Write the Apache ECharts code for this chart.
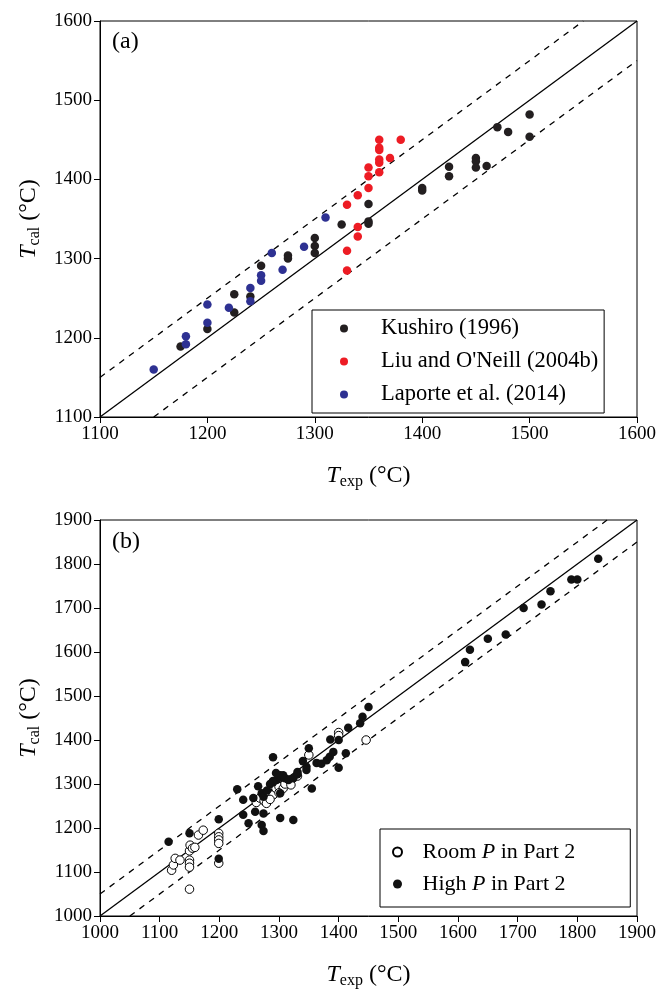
<!DOCTYPE html>
<html>
<head>
<meta charset="utf-8">
<script src="https://cdn.jsdelivr.net/npm/echarts@6/dist/echarts.min.js"></script>
<style>html,body{margin:0;padding:0;background:#fff}#c{width:659px;height:996px}</style>
</head>
<body>
<div id="c"></div>
<script>
// Panel (a)
const kushiroTexp = [1175,1200,1225,1225,1240,1250,1275,1275,1300,1300,1300,1325,1350,1350,1350,1400,1400,1425,1425,1450,1450,1450,1460,1470,1480,1500,1500];
const kushiroTcal = [1189,1211,1232,1255,1252,1291,1304,1300,1326,1316,1307,1343,1369,1347,1344,1389,1386,1416,1404,1427,1423,1415,1417,1466,1460,1482,1454];
const liuTexp = [1330,1330,1330,1340,1340,1340,1350,1350,1350,1360,1360,1360,1360,1360,1360,1370,1380];
const liuTcal = [1285,1310,1368,1328,1340,1380,1389,1404,1415,1409,1421,1425,1437,1440,1450,1427,1450];
const laporteTexp = [1150,1180,1180,1200,1200,1220,1240,1240,1250,1250,1260,1270,1290,1310];
const laporteTcal = [1160,1192,1202,1219,1242,1238,1263,1246,1279,1272,1307,1286,1315,1352];
const oneToOneA = [[1100,1100],[1600,1600]];
const upperA = [[1100,1150],[1550,1600]];
const lowerA = [[1150,1100],[1600,1550]];

// Panel (b)
const roomTexp = [1120,1123,1126,1134,1150,1150,1150,1150,1151,1155,1159,1150,1165,1173,1199,1199,1199,1199,1199,1262,1268,1275,1279,1285,1280,1290,1295,1300,1307,1310,1317,1320,1285,1300,1331,1350,1400,1400,1446];
const roomTcal = [1104,1116,1131,1127,1148,1127,1120,1111,1161,1154,1156,1061,1184,1195,1188,1180,1173,1165,1120,1258,1268,1262,1256,1275,1283,1275,1290,1294,1290,1300,1309,1298,1265,1280,1318,1366,1417,1410,1400];
const highTexp = [1115,1150,1199,1199,1230,1240,1240,1249,1257,1260,1265,1271,1274,1274,1271,1274,1290,1290,1296,1290,1302,1302,1307,1310,1316,1302,1302,1324,1324,1331,1331,1340,1346,1346,1350,1355,1363,1371,1380,1385,1386,1391,1400,1400,1412,1416,1436,1440,1450,1612,1620,1650,1680,1710,1740,1755,1790,1800,1835,1285,1295,1280];
const highTcal = [1169,1188,1220,1130,1288,1264,1230,1211,1268,1237,1295,1207,1233,1193,1279,1271,1361,1307,1309,1304,1315,1320,1320,1313,1309,1279,1223,1218,1313,1327,1322,1352,1339,1332,1381,1290,1348,1346,1354,1362,1401,1373,1400,1337,1370,1428,1438,1453,1475,1577,1605,1630,1640,1700,1708,1738,1765,1765,1812,1300,1325,1285];
const oneToOneB = [[1000,1000],[1900,1900]];
const upperB = [[1000,1050],[1850,1900]];
const lowerB = [[1050,1000],[1900,1850]];

const zip = (a, b) => a.map((v, i) => [v, b[i]]);
const FONT = 'Liberation Serif';
const nameRich = {
  T: {fontFamily: FONT, fontStyle: 'italic', fontSize: 24, color: '#000'},
  s: {fontFamily: FONT, fontSize: 16, color: '#000', padding: [12, 0, 0, 0]},
  n: {fontFamily: FONT, fontSize: 24, color: '#000'}
};
const plain = v => String(v);
function xAx(gi, min, max, sub) {
  return {
    gridIndex: gi, type: 'value', min: min, max: max, interval: 100,
    name: '{T|T}{s|' + sub + '}{n| (°C)}', nameLocation: 'middle', nameGap: 45,
    nameTextStyle: {rich: nameRich},
    axisLine: {show: true, lineStyle: {color: '#000', width: 1}},
    axisTick: {show: true, inside: false, length: 6, lineStyle: {color: '#000'}},
    axisLabel: {fontFamily: FONT, fontSize: 19, color: '#000', margin: 8, formatter: plain},
    splitLine: {show: false}
  };
}
function yAx(gi, min, max, sub) {
  return {
    gridIndex: gi, type: 'value', min: min, max: max, interval: 100,
    name: '{T|T}{s|' + sub + '}{n| (°C)}', nameLocation: 'middle', nameGap: 56, nameRotate: 90,
    nameTextStyle: {rich: nameRich},
    axisLine: {show: true, lineStyle: {color: '#000', width: 1}},
    axisTick: {show: true, inside: false, length: 6, lineStyle: {color: '#000'}},
    axisLabel: {fontFamily: FONT, fontSize: 19, color: '#000', margin: 8, formatter: plain},
    splitLine: {show: false}
  };
}
function refLine(xi, yi, data, dashed) {
  return {type: 'line', xAxisIndex: xi, yAxisIndex: yi, data: data, symbol: 'none', silent: true,
    lineStyle: {color: '#000', width: 1.3, type: dashed ? [6, 6] : 'solid'}, z: 1};
}
function sc(name, xi, yi, xs, ys, color, open) {
  return {type: 'scatter', name: name, xAxisIndex: xi, yAxisIndex: yi, data: zip(xs, ys),
    symbol: 'circle', symbolSize: 8.5,
    itemStyle: open ? {color: '#fff', borderColor: '#000', borderWidth: 1, opacity: 1} : {color: color, opacity: 1},
    z: 3};
}
const chart = echarts.init(document.getElementById('c'), null, {renderer: 'canvas'});
chart.setOption({
  animation: false,
  backgroundColor: '#fff',
  grid: [
    {left: 100, top: 21, width: 537, height: 396, show: true, borderColor: '#000', borderWidth: 1},
    {left: 100, top: 520, width: 537, height: 396, show: true, borderColor: '#000', borderWidth: 1}
  ],
  xAxis: [xAx(0, 1100, 1600, 'exp'), xAx(1, 1000, 1900, 'exp')],
  yAxis: [yAx(0, 1100, 1600, 'cal'), yAx(1, 1000, 1900, 'cal')],
  legend: [
    {orient: 'vertical', left: 312, top: 310, itemWidth: 64, itemHeight: 8, itemGap: 10,
     padding: [7, 6, 7, 28], borderColor: '#000', borderWidth: 1, backgroundColor: '#fff',
     data: ['Kushiro (1996)', "Liu and O'Neill (2004b)", 'Laporte et al. (2014)'],
     textStyle: {fontFamily: FONT, fontSize: 22.5, color: '#000'}},
    {orient: 'vertical', left: 380, top: 829, itemWidth: 40, itemHeight: 9, itemGap: 10,
     padding: [12, 55, 12, 12], borderColor: '#000', borderWidth: 1, backgroundColor: '#fff',
     data: ['Room P in Part 2', 'High P in Part 2'],
     formatter: function (n) { return n.replace(/^(\w+) P (.*)$/, '{n|$1 }{i|P}{n| $2}'); },
     textStyle: {fontFamily: FONT, fontSize: 22, color: '#000',
       rich: {n: {fontFamily: FONT, fontSize: 22, color: '#000'}, i: {fontFamily: FONT, fontSize: 22, fontStyle: 'italic', color: '#000'}}}}
  ],
  graphic: [
    {type: 'text', left: 112, top: 30, style: {text: '(a)', fontFamily: FONT, fontSize: 24, fill: '#000'}},
    {type: 'text', left: 112, top: 530, style: {text: '(b)', fontFamily: FONT, fontSize: 24, fill: '#000'}}
  ],
  series: [
    refLine(0, 0, oneToOneA, false), refLine(0, 0, upperA, true), refLine(0, 0, lowerA, true),
    refLine(1, 1, oneToOneB, false), refLine(1, 1, upperB, true), refLine(1, 1, lowerB, true),
    sc('Kushiro (1996)', 0, 0, kushiroTexp, kushiroTcal, '#231f20', false),
    sc("Liu and O'Neill (2004b)", 0, 0, liuTexp, liuTcal, '#ed1c24', false),
    sc('Laporte et al. (2014)', 0, 0, laporteTexp, laporteTcal, '#2e3192', false),
    sc('Room P in Part 2', 1, 1, roomTexp, roomTcal, '#fff', true),
    sc('High P in Part 2', 1, 1, highTexp, highTcal, '#111', false)
  ]
});
</script>
</body>
</html>
